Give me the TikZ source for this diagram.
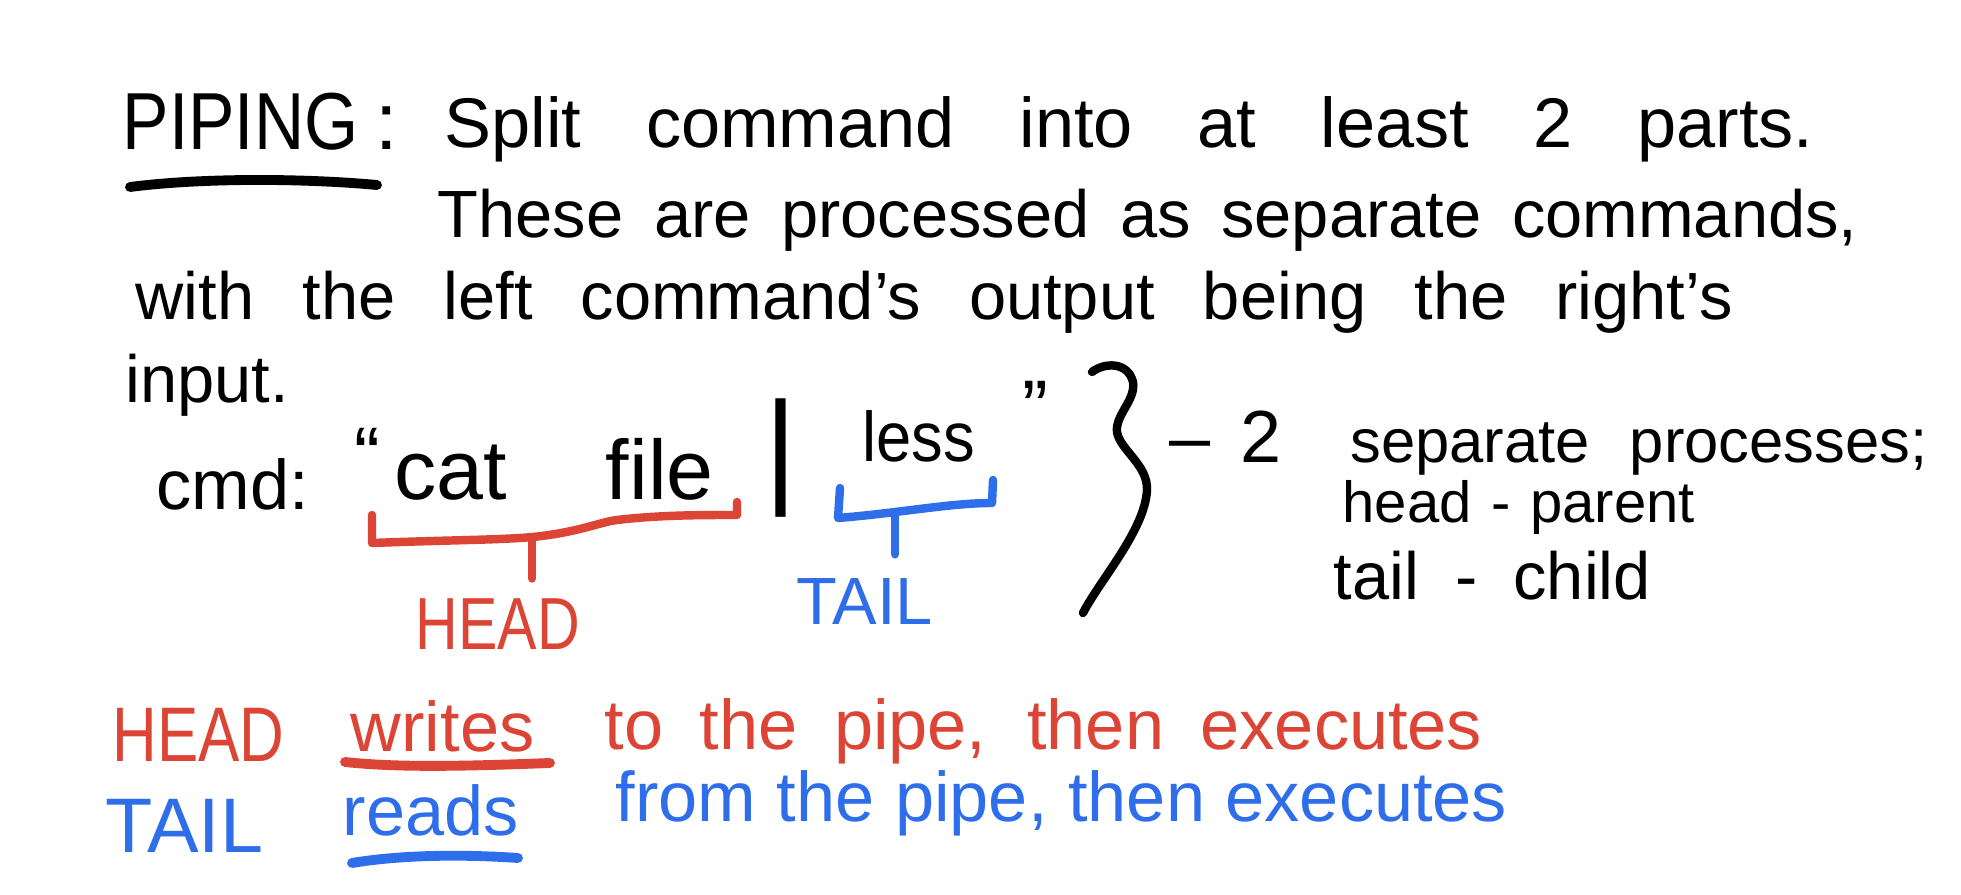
\documentclass[tikz,border=0pt]{standalone}
\usepackage{fontspec}
\setmainfont{Liberation Sans}
\usetikzlibrary{positioning}
\definecolor{cHead}{HTML}{DC4535}
\definecolor{cTail}{HTML}{2F6EEA}
\newcommand{\spread}[2]{\makebox[#1][s]{#2}}
\newcommand{\sz}[1]{\fontsize{#1}{#1}\selectfont}

\begin{document}
\begin{tikzpicture}[x=0.01cm, y=-0.01cm,
  word/.style={anchor=base west, inner sep=0pt},
  pen/.style={line width=2.4pt, line cap=round, line join=round},
  uline/.style={line width=2.8pt, line cap=round}
]
\useasboundingbox (0,0) rectangle (1961,895);
% definition
\node[word, font=\sz{23}] (piping) at (122,150) {\spread{2.75cm}{\scalebox{0.86}[1]{PIPING} :}};
\draw[uline] (130,187) .. controls (200,178) and (300,178) .. (377,185);
\node[word, font=\sz{20}] (split) at (444,148) {\spread{13.68cm}{Split command into at least 2 parts.}};
\node[word, font=\sz{19}] (these) at (437,238) {\spread{14.19cm}{These are processed as separate commands,}};
\node[word, font=\sz{19}] (with) at (135,320) {\spread{15.96cm}{with the left command’s output being the right’s}};
\node[word, font=\sz{19}] (input) at (125,403) {input.};

% the example command
\node[word, font=\sz{20}] (cmd) at (156,510) {cmd:};
\node[anchor=north west, inner sep=0pt, font=\sz{22}] (oq) at (354,428) {“};
\node[word, font=\sz{24}] (catfile) at (394,500) {\spread{3.19cm}{cat file}};
\node[anchor=north, inner sep=0pt, font=\sz{36}] (pipe) at (781,398) {|};
\node[word, font=\sz{20}] (less) at (862,462) {\scalebox{0.9}[1]{less}};
\node[anchor=north west, inner sep=0pt, font=\sz{22}] (cq) at (1022,381) {”};

% head / tail brackets
\draw[pen, cHead] (372,515) -- (372,543) .. controls (450,540) and (500,540) .. (533,537)
  .. controls (580,532) and (600,522) .. (617,520) .. controls (660,515) and (700,515) .. (737,515) -- (737,502);
\coordinate (headtip) at (532,541);
\node[word, font=\sz{21}, cHead] (headlbl) at (415,650) {\scalebox{0.8}[1]{HEAD}};
\draw[pen, cHead] (headtip) -- ([yshift=0.2cm]headtip |- headlbl.north);

\draw[pen, cTail] (840,488) -- (838,518) .. controls (900,513) and (950,503) .. (992,503) -- (993,480);
\coordinate (tailtip) at (895,514);
\node[word, font=\sz{19}, cTail] (taillbl) at (796,625) {TAIL};
\draw[pen, cTail] (tailtip) -- ([yshift=0.24cm]tailtip |- taillbl.north);

% brace and processes
\draw[pen] (1092,372) .. controls (1105,362) and (1128,362) .. (1133,382)
  .. controls (1136,400) and (1115,415) .. (1117,432)
  .. controls (1120,450) and (1148,465) .. (1147,490)
  .. controls (1145,530) and (1100,580) .. (1083,613);
\node[word, font=\sz{21}] (two) at (1169,463) {\spread{1.12cm}{– 2}};
\node[word, font=\sz{17.5}, right=0.67cm of two.base east, anchor=base west] (sep) {\spread{5.77cm}{separate processes;}};
\node[word, font=\sz{16.5}] (headpar) at (1342,523) {\spread{3.52cm}{head - parent}};
\node[word, font=\sz{19}] (tailch) at (1333,600) {\spread{3.17cm}{tail - child}};

% what each end does
\node[word, font=\sz{22}, cHead] (headw) at (112,762) {\scalebox{0.8}[1]{HEAD}};
\node[word, font=\sz{20}, cHead] (writes) at (350,752) {writes};
\node[word, font=\sz{20}, cHead] (headrest) at (604,750) {\spread{8.77cm}{to the pipe, then executes}};
\draw[uline, cHead] (345,762) .. controls (400,768) and (470,766) .. (550,763);

\node[word, font=\sz{22}, cTail] (tailw) at (105,853) {TAIL};
\node[word, font=\sz{20}, cTail] (reads) at (342,835) {reads};
\node[word, font=\sz{20}, cTail] (tailrest) at (615,822) {\spread{8.91cm}{from the pipe, then executes}};
\draw[uline, cTail] (352,863) .. controls (400,855) and (460,854) .. (518,858);
\end{tikzpicture}
\end{document}
